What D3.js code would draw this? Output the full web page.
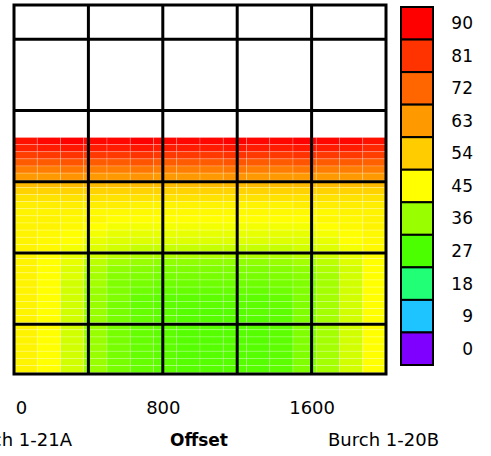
<!DOCTYPE html>
<html lang="en">
<head>
  <meta charset="UTF-8">
  <title>Burch offset section</title>
  <style>
    body { margin: 0; background: #fff; }
    text { font-family: "DejaVu Sans", sans-serif; fill: #000; }
  </style>
</head>
<body>
  <svg id="svg" width="491" height="456"></svg>

  <script src="https://d3js.org/d3.v7.min.js"></script>
  <script>
    // column left edges (offset, m) and row centres (elevation units)
    const offsets = [0, 125, 250, 375, 500, 625, 750, 875, 1000, 1125, 1250, 1375, 1500, 1625, 1750, 1875]
    const elevations = [3.57, 3.47, 3.37, 3.27, 3.17, 3.07, 2.97, 2.87, 2.77, 2.67, 2.57, 2.47,
      2.37, 2.27, 2.17, 2.07, 1.97, 1.87, 1.77, 1.67, 1.57, 1.47, 1.37, 1.27, 1.17, 1.07,
      0.97, 0.87, 0.77, 0.67, 0.57, 0.47, 0.37, 0.27]

    // one row of values per elevation, top to bottom
    const values = [
      [87, 89, 90, 89, 89, 90, 89, 89, 89, 90, 89, 89, 90, 89, 89, 87],
      [84, 85, 86, 85, 85, 86, 85, 85, 85, 86, 85, 85, 86, 85, 85, 83],
      [79, 80, 81, 80, 80, 81, 80, 80, 80, 81, 80, 80, 81, 80, 80, 79],
      [74, 74, 75, 74, 74, 75, 74, 74, 74, 75, 74, 74, 75, 74, 74, 73],
      [68, 68, 69, 68, 68, 69, 68, 68, 68, 69, 68, 68, 69, 68, 68, 68],
      [63, 63, 64, 63, 63, 64, 63, 63, 63, 64, 63, 63, 63, 63, 63, 63],
      [57, 57, 57, 57, 57, 57, 57, 57, 57, 57, 57, 57, 57, 57, 57, 57],
      [53, 53, 53, 53, 53, 53, 53, 53, 53, 53, 53, 53, 53, 53, 53, 53],
      [50, 50, 50, 50, 50, 50, 50, 50, 50, 50, 50, 50, 50, 50, 50, 50],
      [48, 48, 48, 48, 48, 47, 47, 47, 47, 47, 47, 47, 48, 48, 48, 48],
      [47, 47, 47, 46, 46, 46, 46, 46, 46, 46, 46, 46, 46, 46, 47, 47],
      [47, 47, 46, 46, 45, 45, 45, 45, 45, 45, 45, 45, 45, 46, 46, 47],
      [47, 47, 46, 45, 44, 44, 44, 44, 44, 44, 44, 44, 44, 45, 46, 47],
      [47, 46, 45, 44, 43, 43, 43, 43, 43, 43, 43, 43, 43, 44, 45, 46],
      [47, 46, 45, 43, 42, 42, 42, 42, 42, 42, 42, 42, 42, 43, 45, 46],
      [47, 46, 44, 42, 41, 40, 40, 40, 40, 40, 40, 40, 41, 42, 44, 46],
      [47, 45, 43, 41, 39, 38, 38, 38, 38, 38, 38, 38, 39, 41, 43, 45],
      [47, 45, 43, 39, 37, 36, 35, 35, 35, 35, 35, 36, 37, 39, 42, 45],
      [47, 45, 42, 38, 35, 34, 33, 33, 33, 33, 33, 34, 35, 38, 41, 45],
      [47, 45, 42, 37, 34, 33, 32, 32, 32, 32, 32, 33, 34, 37, 41, 45],
      [47, 45, 41, 37, 33, 32, 31, 31, 31, 31, 31, 32, 33, 37, 41, 45],
      [47, 45, 41, 36, 33, 31, 30, 30, 30, 30, 30, 31, 33, 37, 41, 45],
      [47, 45, 41, 36, 33, 30, 29, 29, 29, 29, 29, 30, 33, 37, 41, 45],
      [47, 45, 41, 36, 32, 30, 29, 29, 29, 29, 29, 30, 33, 37, 41, 45],
      [47, 45, 41, 36, 32, 30, 29, 28, 28, 28, 29, 29, 33, 37, 41, 45],
      [47, 45, 41, 36, 32, 30, 29, 28, 28, 28, 28, 29, 33, 37, 41, 45],
      [47, 45, 41, 36, 32, 30, 29, 28, 28, 28, 28, 29, 33, 37, 41, 45],
      [47, 45, 41, 36, 32, 30, 29, 28, 28, 28, 28, 29, 33, 37, 41, 45],
      [47, 45, 41, 36, 32, 30, 29, 28, 28, 28, 28, 29, 33, 37, 41, 45],
      [47, 45, 41, 36, 32, 30, 29, 28, 28, 28, 28, 29, 33, 37, 41, 45],
      [47, 45, 41, 36, 32, 30, 29, 28, 28, 28, 28, 29, 33, 37, 41, 45],
      [47, 45, 41, 36, 32, 30, 29, 28, 28, 28, 28, 29, 33, 37, 41, 45],
      [47, 45, 41, 36, 32, 30, 29, 28, 28, 28, 28, 29, 33, 37, 41, 45],
      [47, 45, 41, 36, 32, 30, 29, 28, 28, 28, 28, 29, 33, 37, 41, 45]
    ]

    const legendStops = [90, 81, 72, 63, 54, 45, 36, 27, 18, 9, 0]
    const legendColors = ['#ff0000', '#ff3300', '#ff6600', '#ff9900', '#ffcc00', '#ffff00',
      '#99ff00', '#4cff00', '#20ff75', '#1ec4ff', '#8000ff']
    const xTicks = [0, 800, 1600]
    const xGrid = [400, 800, 1200, 1600]
    const yGrid = [1, 2, 3, 4, 5]

    const svg = d3.select('#svg')

    const plot = { left: 14, right: 386, top: 5, bottom: 374 }
    const colStep = 125
    const rowStep = 0.1

    const xscale = d3.scaleLinear().domain([0, 2000]).range([plot.left, plot.right])
    const yscale = d3.scaleLinear().domain([5.48, 0.3]).range([plot.top, plot.bottom])

    const color = d3.scaleLinear()
      .domain(legendStops.slice().reverse())
      .range(legendColors.slice().reverse())

    svg.append('clipPath').attr('id', 'clip')
      .append('rect')
      .attr('x', plot.left).attr('y', plot.top)
      .attr('width', plot.right - plot.left).attr('height', plot.bottom - plot.top)

    // cells
    const cells = []
    values.forEach((row, i) => row.forEach((v, j) => {
      if (v != null) cells.push({ x: offsets[j], e: elevations[i], v })
    }))

    svg.append('g')
      .attr('clip-path', 'url(#clip)')
      .selectAll('rect')
      .data(cells)
      .enter()
      .append('rect')
      .attr('x', d => xscale(d.x))
      .attr('y', d => yscale(d.e + rowStep / 2))
      .attr('width', d => xscale(d.x + colStep) - xscale(d.x))
      .attr('height', d => yscale(d.e - rowStep / 2) - yscale(d.e + rowStep / 2))
      .attr('fill', d => color(d.v))
      .attr('stroke', '#fff')
      .attr('stroke-opacity', 0.3)
      .attr('stroke-width', 0.7)

    // grid
    const grid = svg.append('g').attr('stroke', '#000').attr('stroke-width', 3)
    grid.selectAll('.vx')
      .data(xGrid)
      .enter()
      .append('line')
      .attr('x1', d => xscale(d)).attr('x2', d => xscale(d))
      .attr('y1', plot.top).attr('y2', plot.bottom)
    grid.selectAll('.hy')
      .data(yGrid)
      .enter()
      .append('line')
      .attr('y1', d => yscale(d)).attr('y2', d => yscale(d))
      .attr('x1', plot.left).attr('x2', plot.right)
    grid.append('rect')
      .attr('x', plot.left).attr('y', plot.top)
      .attr('width', plot.right - plot.left).attr('height', plot.bottom - plot.top)
      .attr('fill', 'none')

    // x axis labels only
    const bottomAxis = d3.axisBottom(xscale).tickValues(xTicks).tickSize(0).tickPadding(0)
      .tickFormat(d3.format('d'))
    const xAxis = svg.append('g')
      .attr('transform', `translate(0, ${plot.bottom + 34})`)
      .call(bottomAxis)
    xAxis.select('.domain').remove()
    xAxis.selectAll('text')
      .attr('font-family', '"DejaVu Sans", sans-serif')
      .attr('font-size', 18)
      .attr('dy', '0.35em')
      .attr('fill', '#000')
    xAxis.selectAll('text').filter(d => d === 0).attr('x', 7)

    svg.append('text')
      .attr('x', 72).attr('y', 446)
      .attr('text-anchor', 'end')
      .attr('font-size', 18)
      .text('Burch 1-21A')
    svg.append('text')
      .attr('x', 199).attr('y', 446)
      .attr('text-anchor', 'middle')
      .attr('font-size', 17)
      .attr('font-weight', 'bold')
      .text('Offset')
    svg.append('text')
      .attr('x', 328).attr('y', 446)
      .attr('font-size', 18)
      .text('Burch 1-20B')

    // legend
    const lscale = d3.scaleBand().domain(legendStops).range([7, 365])
    const legend = svg.append('g')
    legend.selectAll('rect')
      .data(legendStops)
      .enter()
      .append('rect')
      .attr('x', 401)
      .attr('y', d => lscale(d))
      .attr('width', 32)
      .attr('height', lscale.bandwidth())
      .attr('fill', (d, i) => legendColors[i])
      .attr('stroke', '#000')
      .attr('stroke-width', 2)
    legend.selectAll('text')
      .data(legendStops)
      .enter()
      .append('text')
      .attr('x', 473)
      .attr('y', d => lscale(d) + lscale.bandwidth() / 2)
      .attr('dy', '0.35em')
      .attr('text-anchor', 'end')
      .attr('font-size', 17)
      .text(d => d)
  </script>
</body>
</html>
